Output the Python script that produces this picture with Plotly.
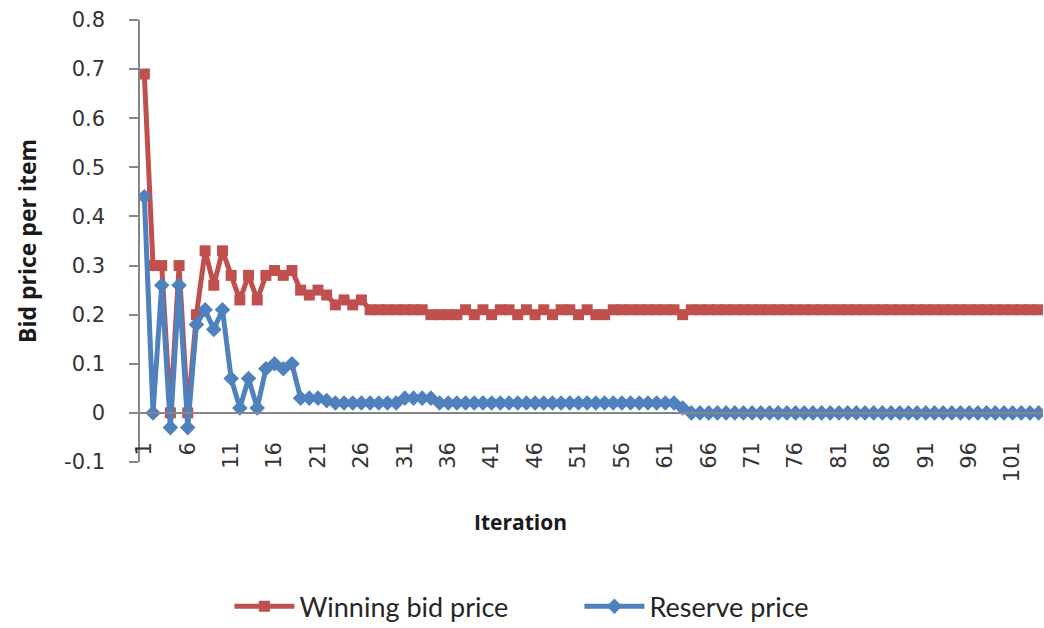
import plotly.graph_objects as go

# Iteration index (1..104)
iterations = list(range(1, 105))

# Winning bid price per item at each iteration
winning_bid = (
    [0.69, 0.30, 0.30, 0.00, 0.30, 0.00, 0.20, 0.33, 0.26, 0.33,
     0.28, 0.23, 0.28, 0.23, 0.28, 0.29, 0.28, 0.29, 0.25, 0.24,
     0.25, 0.24, 0.22, 0.23, 0.22, 0.23, 0.21, 0.21, 0.21, 0.21,
     0.21, 0.21, 0.21, 0.20, 0.20, 0.20, 0.20, 0.21, 0.20, 0.21,
     0.20, 0.21, 0.21, 0.20, 0.21, 0.20, 0.21, 0.20, 0.21, 0.21,
     0.20, 0.21, 0.20, 0.20, 0.21, 0.21, 0.21, 0.21, 0.21, 0.21,
     0.21, 0.21, 0.20]
    + [0.21] * 41
)

# Reserve price per item at each iteration
reserve_price = (
    [0.44, 0.00, 0.26, -0.03, 0.26, -0.03, 0.18, 0.21, 0.17, 0.21,
     0.07, 0.01, 0.07, 0.01, 0.09, 0.10, 0.09, 0.10, 0.03, 0.03,
     0.03, 0.025, 0.02, 0.02, 0.02, 0.02, 0.02, 0.02, 0.02, 0.02,
     0.03, 0.03, 0.03, 0.03]
    + [0.02] * 28
    + [0.01]
    + [0.00] * 41
)

x_tickvals = list(range(1, 105, 5))
x_ticktext = [str(v) for v in x_tickvals]
y_tickvals = [-0.1, 0.0, 0.1, 0.2, 0.3, 0.4, 0.5, 0.6, 0.7, 0.8]
y_ticktext = ["-0.1", "0", "0.1", "0.2", "0.3", "0.4", "0.5", "0.6", "0.7", "0.8"]

RED = "#C0504D"
BLUE = "#4F81BD"
AXIS = "#868686"
TICKFONT = dict(family="DejaVu Sans", size=21, color="#333333")
TITLEFONT = dict(family="Open Sans", color="#1a1a1a")

fig = go.Figure()
fig.add_trace(go.Scatter(
    x=iterations, y=winning_bid, name="Winning bid price",
    mode="lines+markers",
    line=dict(color=RED, width=5),
    marker=dict(symbol="square", size=11, color=RED),
))
fig.add_trace(go.Scatter(
    x=iterations, y=reserve_price, name="Reserve price",
    mode="lines+markers",
    line=dict(color=BLUE, width=5),
    marker=dict(symbol="diamond", size=12, color=BLUE),
))

y_min, y_max = -0.1, 0.8

fig.update_layout(
    width=1044, height=628,
    margin=dict(l=140, r=1, t=20, b=166),
    paper_bgcolor="white", plot_bgcolor="white",
    showlegend=True,
    legend=dict(
        orientation="h", xref="container", yref="container",
        x=0.555, xanchor="center", y=0.034, yanchor="middle",
        font=dict(family="Lato", size=27, color="#262626"),
        itemwidth=60, tracegroupgap=0,
        entrywidth=275, entrywidthmode="pixels",
    ),
    xaxis=dict(
        range=[0.5, 104.5],
        tickmode="array", tickvals=x_tickvals, ticktext=x_ticktext,
        tickangle=-90, tickfont=TICKFONT,
        showgrid=False, zeroline=False,
        showline=True, linecolor=AXIS, linewidth=1.5,
        ticks="", ticklabelstandoff=20,
        anchor="free", position=(0 - y_min) / (y_max - y_min),
    ),
    yaxis=dict(
        range=[y_min, y_max],
        tickmode="array", tickvals=y_tickvals, ticktext=y_ticktext,
        tickfont=TICKFONT,
        showgrid=False, zeroline=False,
        showline=True, linecolor=AXIS, linewidth=1.5,
        ticks="outside", ticklen=9, tickcolor=AXIS, tickwidth=1.5,
        ticklabelstandoff=20,
        title=dict(text="<b>Bid price per item</b>", standoff=21,
                   font=dict(size=23, **TITLEFONT)),
    ),
    annotations=[dict(
        text="<b>Iteration</b>", xref="paper", yref="paper",
        x=0.421, y=-0.136, xanchor="center", yanchor="middle",
        showarrow=False, font=dict(size=21, **TITLEFONT),
    )],
)

fig.write_html("out.html")
